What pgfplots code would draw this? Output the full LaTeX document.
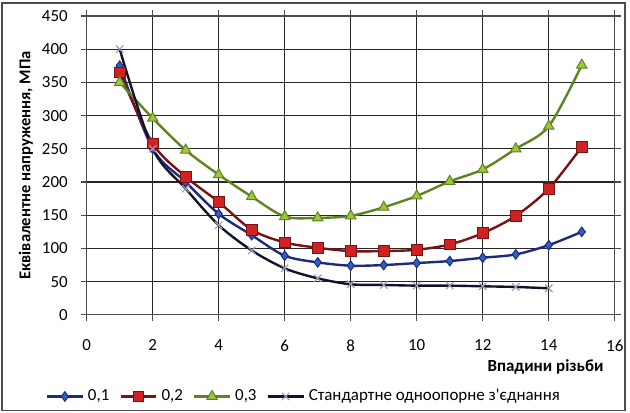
\documentclass[border=0pt]{standalone}
\usepackage{pgfplots}
\pgfplotsset{compat=1.18}
\usepackage{fontspec}
\setmainfont{Carlito}
\definecolor{bline}{HTML}{1F2A7A}
\definecolor{bmark}{HTML}{2E5FC8}
\definecolor{rline}{HTML}{7A1212}
\definecolor{rmark}{HTML}{D02222}
\definecolor{gline}{HTML}{5E8420}
\definecolor{gmark}{HTML}{9CC63C}
\definecolor{kline}{HTML}{12122A}
\definecolor{kmark}{HTML}{9A9AB0}
\begin{document}
\begin{tikzpicture}
\path (-43.5pt,-49pt) rectangle (271.5pt,158pt);
\draw[gray!60!black, line width=0.9pt] (-42.5pt,-48pt) rectangle (270pt,156.5pt);
\begin{axis}[
  at={(0,0)}, anchor=south west,
  scale only axis, width=265pt, height=150pt,
  xmin=0, xmax=16, ymin=0, ymax=450,
  xtick={0,2,...,16}, ytick={0,50,...,450},
  grid=major, grid style={black!85, line width=0.55pt},
  axis line style={black!70, line width=0.6pt},
  tick style={black!70, line width=0.6pt},
  tick align=outside, major tick length=3pt,
  /pgf/number format/assume math mode=true,
  ticklabel style={font=\fontsize{8.5}{10}\selectfont},
  xticklabel style={yshift=-6pt},
  yticklabel style={xshift=-3pt},
  xlabel={\textbf{Впадини різьби}},
  xlabel style={at={(axis description cs:0.992,-0.173)}, anchor=east, font=\fontsize{8.5}{10}\selectfont},
  ylabel={\textbf{Еквівалентне напруження, МПа}},
  ylabel style={at={(axis description cs:-0.115,0.5)}, anchor=center, font=\fontsize{8.3}{10}\selectfont},
  legend columns=4,
  legend style={at={(axis description cs:0.413,-0.273)}, anchor=center, draw=none, fill=none,
    font=\fontsize{8.5}{10}\selectfont, /tikz/every even column/.append style={column sep=3pt}},
  legend image code/.code={\draw[#1] (0pt,0pt) -- (9pt,0pt) plot coordinates {(9pt,0pt)} -- (18pt,0pt);},
  clip=false,
]
\addplot[smooth, bline, line width=1.2pt, mark=diamond*, mark size=2.4pt, mark options={fill=bmark, draw=bline, line width=0.5pt}]
coordinates {(1,375) (2,250) (3,200) (4,152) (5,120) (6,89) (7,79) (8,74) (9,75) (10,78) (11,81) (12,86) (13,91) (14,105) (15,125)};
\addlegendentry{0,1}
\addplot[smooth, rline, line width=1.2pt, mark=square*, mark size=2.7pt, mark options={fill=rmark, draw=rline, line width=0.5pt}]
coordinates {(1,365) (2,258) (3,208) (4,170) (5,128) (6,109) (7,101) (8,96) (9,96) (10,98) (11,106) (12,123) (13,149) (14,190) (15,253)};
\addlegendentry{0,2}
\addplot[smooth, gline, line width=1.2pt, mark=triangle*, mark size=3pt, mark options={fill=gmark, draw=gline, line width=0.5pt}]
coordinates {(1,350) (2,296) (3,248) (4,211) (5,178) (6,148) (7,146) (8,149) (9,162) (10,179) (11,201) (12,219) (13,250) (14,284) (15,376)};
\addlegendentry{0,3}
\addplot[smooth, kline, line width=1.2pt, mark=x, mark size=2.6pt, mark options={draw=kmark, line width=0.6pt}]
coordinates {(1,400) (2,250) (3,190) (4,135) (5,97) (6,70) (7,55) (8,46) (9,45) (10,44) (11,44) (12,43) (13,42) (14,40)};
\addlegendentry{Стандартне одноопорне з\textquotesingle єднання}
\end{axis}
\end{tikzpicture}
\end{document}
